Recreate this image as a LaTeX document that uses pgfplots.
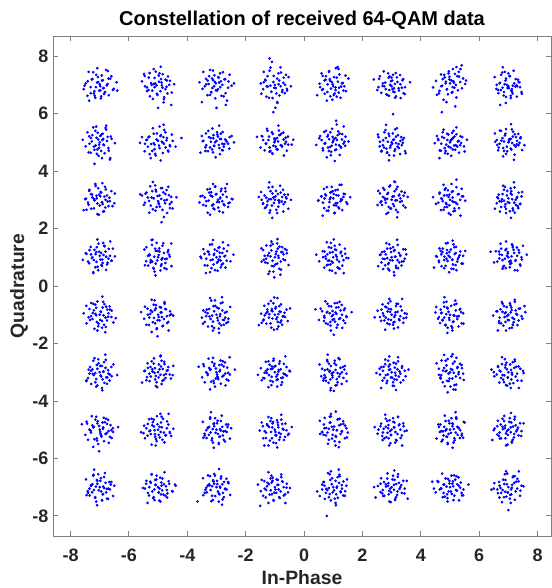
\documentclass[border=0pt]{standalone}
\usepackage{fontspec}
\setmainfont{Liberation Sans}
\usepackage{pgfplots}
\pgfplotsset{compat=1.18}
\definecolor{axisgray}{RGB}{128,128,128}
\definecolor{txtgray}{RGB}{38,38,38}

% received symbols, one constellation point per line
\pgfplotstableread[row sep=\\]{
x y\\
-7.05 7.10\\ -6.82 6.75\\ -7.31 6.92\\ -6.95 6.60\\ -7.12 7.35\\ -6.70 7.22\\ -7.48 7.05\\ -6.88 6.88\\ -7.20 6.70\\ -6.60 7.30\\ -7.02 6.80\\ -7.38 7.45\\ -6.76 6.98\\ -7.15 6.55\\ -6.92 7.15\\ -7.55 6.85\\ -6.55 6.82\\ -7.08 7.58\\ -6.85 6.68\\ -7.25 7.20\\ -6.98 6.95\\ -6.72 7.48\\ -7.42 6.62\\ -7.00 7.02\\ -6.40 6.80\\ -7.18 6.78\\
-5.10 7.05\\ -4.85 6.90\\ -5.32 7.25\\ -4.95 7.40\\ -5.20 6.80\\ -4.70 7.15\\ -5.45 6.95\\ -5.02 6.65\\ -4.80 6.50\\ -5.15 7.55\\ -4.62 7.00\\ -5.55 7.12\\ -4.90 7.20\\ -5.05 6.98\\ -5.28 6.60\\ -4.75 6.85\\ -4.55 6.30\\ -5.38 6.78\\ -4.98 7.32\\ -5.12 6.92\\ -4.88 7.08\\ -5.48 7.38\\ -4.68 6.70\\ -5.22 7.00\\ -4.45 7.02\\ -5.00 6.20\\
-3.05 7.10\\ -2.80 7.00\\ -3.25 7.30\\ -2.95 6.85\\ -3.12 7.50\\ -2.70 7.20\\ -3.40 6.95\\ -2.88 7.40\\ -3.18 6.75\\ -2.60 6.90\\ -3.02 7.05\\ -3.30 7.15\\ -2.75 6.60\\ -3.45 7.45\\ -2.92 7.25\\ -3.08 6.95\\ -2.55 7.35\\ -3.22 6.65\\ -2.85 7.12\\ -3.50 6.40\\ -2.98 6.80\\ -3.15 7.22\\ -2.68 6.30\\ -3.35 7.02\\ -2.40 7.05\\ -3.00 6.20\\
-1.05 7.10\\ -0.80 6.95\\ -1.25 7.30\\ -0.95 6.70\\ -1.15 7.60\\ -0.65 7.00\\ -1.40 6.85\\ -0.88 7.40\\ -1.20 6.55\\ -0.70 7.25\\ -1.02 6.90\\ -1.32 7.15\\ -0.75 6.75\\ -1.10 7.80\\ -0.92 6.40\\ -1.48 7.05\\ -0.58 6.80\\ -1.00 7.00\\ -0.85 7.15\\ -1.28 6.95\\ -0.98 6.20\\ -0.62 7.35\\ -1.38 7.45\\ -1.05 6.05\\ -0.45 6.95\\ -1.18 7.92\\
0.95 7.10\\ 1.20 6.90\\ 0.75 7.30\\ 1.05 6.70\\ 0.85 7.45\\ 1.30 7.05\\ 0.65 6.85\\ 1.12 7.25\\ 0.90 6.60\\ 1.35 6.80\\ 1.00 6.95\\ 0.70 7.15\\ 1.18 7.55\\ 0.80 6.75\\ 1.42 7.32\\ 0.98 7.02\\ 1.25 6.55\\ 0.60 7.40\\ 1.08 6.82\\ 0.88 7.20\\ 1.15 7.62\\ 0.78 6.45\\ 1.38 6.95\\ 1.02 6.65\\ 0.55 6.92\\ 1.10 5.75\\
3.00 6.95\\ 3.20 7.10\\ 2.80 6.85\\ 3.10 6.75\\ 2.90 7.25\\ 3.35 6.90\\ 2.70 7.05\\ 3.05 7.35\\ 2.85 6.65\\ 3.25 6.80\\ 3.02 7.15\\ 2.75 6.95\\ 3.15 6.60\\ 2.95 7.00\\ 3.40 7.20\\ 2.65 6.72\\ 3.08 6.88\\ 2.88 7.40\\ 3.30 7.02\\ 3.12 6.55\\ 2.60 7.30\\ 2.92 6.82\\ 3.45 6.68\\ 3.00 7.25\\ 2.55 6.92\\ 3.05 5.98\\
5.05 7.15\\ 5.25 7.30\\ 4.85 7.05\\ 5.15 6.90\\ 4.95 7.40\\ 5.35 7.10\\ 4.75 7.20\\ 5.10 7.55\\ 4.90 6.85\\ 5.30 7.45\\ 5.00 7.05\\ 4.70 6.95\\ 5.20 7.00\\ 4.80 7.35\\ 5.45 7.22\\ 5.08 6.75\\ 4.62 6.70\\ 5.22 7.62\\ 4.98 7.28\\ 5.40 7.68\\ 4.88 6.40\\ 5.12 7.12\\ 4.72 6.05\\ 5.55 7.15\\ 4.55 6.65\\ 5.18 6.25\\
7.00 6.95\\ 7.20 7.05\\ 6.80 6.90\\ 7.10 6.80\\ 6.90 7.15\\ 7.30 6.95\\ 6.70 7.05\\ 7.05 7.30\\ 6.85 6.75\\ 7.25 7.20\\ 7.02 6.88\\ 6.75 7.35\\ 7.15 6.70\\ 6.95 7.00\\ 7.40 6.92\\ 6.65 6.82\\ 7.08 6.62\\ 6.88 7.45\\ 7.35 7.10\\ 7.12 6.85\\ 6.60 7.00\\ 6.92 6.58\\ 7.45 6.75\\ 7.00 7.40\\ 6.72 6.30\\ 7.28 6.98\\
-7.05 5.10\\ -6.85 4.90\\ -7.25 5.25\\ -6.95 4.70\\ -7.15 5.40\\ -6.75 5.05\\ -7.35 4.95\\ -6.90 5.30\\ -7.10 4.60\\ -6.70 4.80\\ -7.00 5.00\\ -7.30 5.15\\ -6.80 5.50\\ -7.20 4.85\\ -6.92 4.45\\ -7.42 5.35\\ -6.62 5.20\\ -7.08 4.75\\ -6.88 5.12\\ -7.18 4.25\\ -6.98 5.22\\ -6.65 4.40\\ -7.38 4.65\\ -7.02 4.92\\ -6.78 5.58\\ -7.12 5.55\\
-5.05 5.10\\ -4.80 4.95\\ -5.30 5.20\\ -4.95 4.80\\ -5.15 5.30\\ -4.70 5.15\\ -5.45 4.95\\ -4.90 5.25\\ -5.20 4.70\\ -4.60 4.90\\ -5.00 5.05\\ -5.35 4.85\\ -4.75 5.35\\ -5.10 4.60\\ -4.85 5.00\\ -5.55 5.18\\ -4.50 5.05\\ -5.25 4.45\\ -4.95 5.55\\ -5.40 5.08\\ -4.65 4.68\\ -5.12 4.92\\ -4.40 4.85\\ -5.62 4.98\\ -4.82 5.18\\ -4.20 5.15\\
-3.00 5.05\\ -2.80 4.95\\ -3.20 5.15\\ -2.90 4.80\\ -3.10 5.25\\ -2.70 5.10\\ -3.35 4.90\\ -2.85 5.30\\ -3.15 4.75\\ -2.60 4.95\\ -3.05 5.00\\ -3.28 5.40\\ -2.75 4.85\\ -3.12 4.65\\ -2.95 5.20\\ -3.45 5.05\\ -2.55 5.18\\ -3.08 4.88\\ -2.88 5.12\\ -3.22 4.82\\ -2.65 5.02\\ -3.38 4.70\\ -2.98 5.35\\ -2.78 4.72\\ -3.50 5.22\\ -2.40 5.00\\
-1.00 5.05\\ -0.80 4.90\\ -1.20 5.20\\ -0.90 4.75\\ -1.10 5.35\\ -0.70 5.10\\ -1.30 4.95\\ -0.85 5.25\\ -1.15 4.70\\ -0.65 4.95\\ -1.02 5.00\\ -1.25 5.40\\ -0.75 4.85\\ -1.08 4.60\\ -0.92 5.15\\ -1.40 5.08\\ -0.55 5.20\\ -1.05 4.88\\ -0.88 5.58\\ -1.18 4.82\\ -0.62 5.02\\ -1.35 4.72\\ -0.98 5.12\\ -0.78 5.30\\ -1.45 5.22\\ -0.42 4.92\\
1.00 5.05\\ 1.20 4.90\\ 0.80 5.20\\ 1.10 4.75\\ 0.90 5.35\\ 1.30 5.10\\ 0.70 4.95\\ 1.15 5.25\\ 0.85 4.70\\ 1.35 4.95\\ 0.98 5.00\\ 0.75 5.40\\ 1.25 4.85\\ 0.92 4.55\\ 1.08 5.15\\ 0.60 5.08\\ 1.42 5.20\\ 0.95 4.88\\ 1.12 5.62\\ 0.82 4.82\\ 1.38 5.02\\ 0.65 4.72\\ 1.02 5.12\\ 1.22 5.30\\ 0.55 5.22\\ 1.05 4.35\\
3.00 5.00\\ 3.20 4.85\\ 2.80 5.15\\ 3.10 4.70\\ 2.90 5.30\\ 3.30 5.05\\ 2.70 4.90\\ 3.15 5.20\\ 2.85 4.65\\ 3.35 4.90\\ 3.02 4.95\\ 2.75 5.35\\ 3.25 4.80\\ 2.92 4.55\\ 3.08 5.10\\ 2.60 5.02\\ 3.42 5.15\\ 2.95 4.82\\ 3.12 5.45\\ 2.82 4.78\\ 3.38 4.98\\ 2.65 4.68\\ 3.05 5.08\\ 3.22 5.25\\ 2.55 5.18\\ 3.48 4.62\\
5.00 5.00\\ 5.20 4.90\\ 4.80 5.15\\ 5.10 4.75\\ 4.90 5.30\\ 5.30 5.05\\ 4.70 4.95\\ 5.15 5.20\\ 4.85 4.70\\ 5.35 4.90\\ 5.02 5.05\\ 4.75 5.35\\ 5.25 4.85\\ 4.92 4.60\\ 5.08 5.12\\ 4.60 5.08\\ 5.42 5.18\\ 4.95 4.85\\ 5.12 5.40\\ 4.82 4.80\\ 5.38 4.98\\ 4.65 4.72\\ 5.05 5.10\\ 5.22 5.28\\ 4.55 5.22\\ 5.50 4.68\\
7.00 5.00\\ 7.20 4.90\\ 6.80 5.15\\ 7.10 4.75\\ 6.90 5.30\\ 7.30 5.05\\ 6.70 4.95\\ 7.15 5.20\\ 6.85 4.70\\ 7.35 4.90\\ 7.02 5.05\\ 6.75 5.40\\ 7.25 4.85\\ 6.92 4.60\\ 7.08 5.12\\ 6.60 5.08\\ 7.42 5.18\\ 6.95 4.85\\ 7.12 5.45\\ 6.82 4.80\\ 7.38 4.98\\ 6.65 4.72\\ 7.05 5.10\\ 7.22 5.28\\ 6.55 5.02\\ 7.55 4.90\\
-7.10 3.05\\ -6.90 2.85\\ -7.30 3.20\\ -6.80 3.00\\ -7.05 3.40\\ -6.65 2.95\\ -7.20 2.70\\ -6.95 3.25\\ -7.40 2.90\\ -6.75 3.15\\ -7.00 2.80\\ -7.15 3.55\\ -6.85 2.60\\ -7.25 3.08\\ -6.60 3.30\\ -7.50 3.02\\ -6.98 3.12\\ -7.08 2.50\\ -6.70 2.78\\ -7.35 3.35\\ -6.92 2.92\\ -7.18 2.98\\ -6.82 3.45\\ -7.02 3.18\\ -6.50 2.88\\ -7.45 2.65\\
-5.00 2.95\\ -4.75 3.20\\ -5.25 2.80\\ -4.90 3.40\\ -5.15 3.05\\ -4.60 2.85\\ -5.40 3.25\\ -4.85 2.65\\ -5.10 3.50\\ -4.70 3.00\\ -5.30 2.55\\ -4.95 3.15\\ -5.20 3.30\\ -4.55 3.10\\ -5.05 2.75\\ -4.80 2.40\\ -5.45 2.90\\ -4.65 3.45\\ -5.18 3.62\\ -4.98 2.88\\ -5.35 3.08\\ -4.78 2.98\\ -5.08 3.35\\ -4.50 2.70\\ -5.55 3.15\\ -4.88 2.22\\
-2.95 3.00\\ -3.20 3.15\\ -2.75 2.85\\ -3.10 2.70\\ -2.85 3.30\\ -3.35 2.95\\ -2.65 3.10\\ -3.05 3.45\\ -2.90 2.60\\ -3.25 3.25\\ -2.80 2.95\\ -3.15 2.80\\ -2.70 3.40\\ -3.40 3.08\\ -3.00 3.20\\ -2.60 2.75\\ -3.30 2.55\\ -2.88 3.05\\ -3.12 3.55\\ -2.55 2.90\\ -3.45 2.82\\ -2.98 2.92\\ -3.22 3.38\\ -2.78 3.18\\ -3.55 3.12\\ -2.45 3.02\\
-1.00 3.00\\ -0.75 3.10\\ -1.25 2.95\\ -0.90 3.20\\ -1.10 2.80\\ -0.60 3.05\\ -1.35 3.15\\ -0.85 2.90\\ -1.15 3.30\\ -0.70 2.85\\ -1.05 3.08\\ -1.30 2.75\\ -0.80 3.25\\ -1.45 3.00\\ -0.95 2.65\\ -0.55 3.18\\ -1.20 3.02\\ -0.88 2.98\\ -1.08 3.45\\ -0.65 2.92\\ -1.40 2.88\\ -0.98 3.12\\ -1.18 2.55\\ -0.72 3.35\\ -1.55 3.10\\ -0.45 3.00\\
1.00 3.05\\ 1.25 2.95\\ 0.75 3.15\\ 1.10 2.80\\ 0.90 3.25\\ 1.35 3.10\\ 0.65 2.90\\ 1.15 3.35\\ 0.85 2.75\\ 1.30 3.00\\ 1.02 3.20\\ 0.70 3.05\\ 1.20 2.70\\ 0.95 3.45\\ 1.40 3.20\\ 0.60 3.12\\ 1.08 2.88\\ 0.88 3.02\\ 1.18 3.15\\ 0.78 2.62\\ 1.45 2.92\\ 0.98 3.30\\ 1.05 2.55\\ 0.68 3.38\\ 1.28 3.52\\ 0.50 2.98\\
3.00 3.00\\ 3.25 3.15\\ 2.80 2.90\\ 3.10 3.30\\ 2.90 2.75\\ 3.35 2.95\\ 2.70 3.10\\ 3.15 2.65\\ 2.85 3.20\\ 3.20 3.45\\ 3.05 2.85\\ 2.65 2.95\\ 3.30 3.05\\ 2.95 3.50\\ 3.40 2.80\\ 2.75 3.35\\ 3.08 3.12\\ 2.88 2.55\\ 3.18 2.98\\ 2.60 3.22\\ 3.45 3.25\\ 2.98 2.70\\ 3.12 3.62\\ 2.78 3.00\\ 3.55 3.10\\ 2.52 2.82\\
5.00 3.00\\ 4.80 3.15\\ 5.20 2.90\\ 4.90 2.75\\ 5.10 3.30\\ 4.70 3.05\\ 5.30 3.20\\ 4.85 3.40\\ 5.15 2.70\\ 4.95 3.10\\ 5.25 2.85\\ 4.75 2.95\\ 5.05 3.55\\ 5.35 3.00\\ 4.65 3.25\\ 5.12 2.60\\ 4.88 2.85\\ 5.40 3.38\\ 4.98 3.18\\ 5.22 3.70\\ 4.78 2.65\\ 5.08 2.95\\ 4.60 2.90\\ 5.45 3.12\\ 5.02 2.48\\ 4.82 3.35\\
7.00 3.05\\ 7.20 2.90\\ 6.80 3.20\\ 7.10 3.30\\ 6.90 2.85\\ 7.30 3.10\\ 6.70 2.95\\ 7.15 2.70\\ 6.85 3.35\\ 7.25 3.00\\ 6.95 3.15\\ 6.75 2.75\\ 7.35 3.25\\ 7.05 2.60\\ 6.65 3.05\\ 7.40 2.85\\ 6.88 3.45\\ 7.12 3.18\\ 6.98 2.92\\ 7.22 2.55\\ 6.78 3.02\\ 7.45 3.12\\ 6.60 2.88\\ 7.08 3.40\\ 6.92 2.68\\ 7.32 2.78\\
-7.00 1.05\\ -7.20 0.90\\ -6.80 1.20\\ -7.10 1.35\\ -6.90 0.80\\ -7.30 1.10\\ -6.70 0.95\\ -7.15 0.65\\ -6.85 1.40\\ -7.25 1.00\\ -6.95 1.15\\ -6.75 0.75\\ -7.35 1.25\\ -7.05 0.55\\ -6.65 1.05\\ -7.40 0.85\\ -6.88 1.50\\ -7.12 1.18\\ -6.98 0.92\\ -7.22 0.45\\ -6.78 1.02\\ -7.45 1.12\\ -6.60 0.88\\ -7.08 1.62\\ -6.92 0.70\\ -6.55 1.30\\
-5.00 1.00\\ -4.80 1.15\\ -5.20 0.85\\ -4.90 0.70\\ -5.10 1.30\\ -4.70 0.95\\ -5.30 1.10\\ -4.85 1.40\\ -5.15 0.60\\ -4.95 1.20\\ -5.25 0.90\\ -4.75 0.80\\ -5.05 1.50\\ -5.35 1.05\\ -4.65 1.25\\ -5.12 0.50\\ -4.88 0.92\\ -5.40 1.35\\ -4.98 1.08\\ -5.22 1.60\\ -4.78 0.62\\ -5.08 0.78\\ -4.60 1.02\\ -5.45 0.72\\ -5.02 1.22\\ -4.55 1.48\\
-3.00 1.00\\ -2.80 1.15\\ -3.20 0.90\\ -2.90 1.35\\ -3.10 0.75\\ -2.70 1.05\\ -3.30 1.20\\ -2.85 0.65\\ -3.15 1.45\\ -2.95 0.85\\ -3.25 1.10\\ -2.75 1.30\\ -3.05 0.55\\ -3.35 0.95\\ -2.65 0.88\\ -3.12 1.60\\ -2.88 1.02\\ -3.40 0.72\\ -2.98 1.22\\ -3.22 0.48\\ -2.78 0.78\\ -3.08 1.12\\ -2.60 1.42\\ -3.45 1.28\\ -2.92 0.92\\ -3.55 1.02\\
-1.00 1.00\\ -0.80 0.85\\ -1.20 1.15\\ -0.90 1.30\\ -1.10 0.70\\ -0.70 1.10\\ -1.30 0.95\\ -0.85 0.60\\ -1.15 1.40\\ -0.95 1.20\\ -1.25 0.80\\ -0.75 1.35\\ -1.05 0.50\\ -1.35 1.05\\ -0.65 0.90\\ -1.12 1.55\\ -0.88 1.05\\ -1.40 1.25\\ -0.98 0.75\\ -1.22 0.42\\ -0.78 1.18\\ -1.08 0.88\\ -0.60 1.25\\ -1.45 0.85\\ -0.92 1.48\\ -1.02 0.30\\
1.00 1.00\\ 1.20 0.85\\ 0.80 1.10\\ 1.10 1.25\\ 0.90 0.75\\ 1.30 1.05\\ 0.75 0.95\\ 1.15 0.65\\ 0.85 1.35\\ 1.25 1.15\\ 0.95 0.85\\ 1.05 1.40\\ 0.70 1.20\\ 1.35 0.90\\ 0.88 0.55\\ 1.12 1.02\\ 0.82 0.88\\ 1.40 1.30\\ 0.98 1.18\\ 1.22 0.60\\ 0.65 1.00\\ 1.08 0.45\\ 0.92 1.50\\ 1.45 0.98\\ 0.78 0.72\\ 1.02 1.62\\
3.00 1.00\\ 3.20 0.90\\ 2.80 1.10\\ 3.10 1.25\\ 2.90 0.80\\ 3.30 1.05\\ 2.70 0.95\\ 3.15 0.70\\ 2.85 1.30\\ 3.25 1.15\\ 2.95 0.90\\ 3.05 1.35\\ 2.75 1.20\\ 3.35 0.85\\ 2.88 0.60\\ 3.12 1.02\\ 2.60 1.08\\ 3.40 1.28\\ 2.98 1.18\\ 3.22 0.62\\ 2.65 0.82\\ 3.08 0.48\\ 2.92 1.45\\ 3.45 0.95\\ 2.78 0.72\\ 3.50 1.10\\
5.00 1.00\\ 5.20 1.15\\ 4.80 0.90\\ 5.10 0.75\\ 4.90 1.25\\ 5.30 1.00\\ 4.70 1.10\\ 5.15 1.35\\ 4.85 0.70\\ 5.25 0.85\\ 4.95 1.05\\ 5.05 0.60\\ 4.75 1.30\\ 5.35 1.20\\ 4.88 0.95\\ 5.12 1.45\\ 4.62 0.88\\ 5.40 0.78\\ 4.98 1.18\\ 5.22 0.55\\ 4.68 1.22\\ 5.08 0.92\\ 4.92 1.50\\ 5.45 1.05\\ 4.80 0.62\\ 4.55 1.02\\
7.00 1.00\\ 7.20 1.15\\ 6.80 0.90\\ 7.10 0.80\\ 6.90 1.25\\ 7.30 1.05\\ 6.70 1.10\\ 7.15 1.35\\ 6.85 0.70\\ 7.25 0.90\\ 6.95 1.05\\ 7.05 0.65\\ 6.75 1.30\\ 7.35 1.25\\ 6.88 0.95\\ 7.12 1.45\\ 6.62 0.85\\ 7.40 0.75\\ 6.98 1.18\\ 7.22 0.55\\ 6.68 1.20\\ 7.08 0.88\\ 6.92 1.55\\ 7.45 1.00\\ 6.80 0.60\\ 7.50 1.40\\
-7.00 -1.00\\ -7.20 -0.85\\ -6.80 -1.10\\ -7.10 -1.25\\ -6.90 -0.75\\ -7.30 -1.05\\ -6.70 -0.95\\ -7.15 -0.65\\ -6.85 -1.35\\ -7.25 -1.15\\ -6.95 -0.90\\ -7.05 -1.40\\ -6.75 -1.20\\ -7.35 -0.80\\ -6.88 -0.55\\ -7.12 -1.02\\ -6.60 -1.08\\ -7.45 -1.30\\ -6.98 -1.18\\ -7.22 -0.62\\ -6.65 -0.82\\ -7.08 -1.55\\ -6.92 -1.45\\ -7.55 -0.95\\ -6.78 -0.72\\ -6.45 -1.12\\
-5.00 -1.00\\ -4.80 -1.15\\ -5.20 -0.90\\ -4.90 -0.75\\ -5.10 -1.30\\ -4.70 -1.05\\ -5.30 -1.10\\ -4.85 -1.40\\ -5.15 -0.65\\ -4.95 -1.20\\ -5.25 -0.85\\ -4.75 -0.80\\ -5.05 -1.50\\ -5.35 -1.00\\ -4.65 -1.25\\ -5.12 -0.50\\ -4.88 -0.92\\ -5.40 -1.35\\ -4.98 -1.08\\ -5.22 -1.60\\ -4.78 -0.62\\ -5.08 -0.78\\ -4.60 -1.02\\ -5.45 -0.72\\ -5.02 -1.75\\ -4.55 -0.98\\
-3.00 -1.00\\ -2.80 -0.85\\ -3.20 -1.15\\ -2.90 -1.30\\ -3.10 -0.70\\ -2.70 -1.10\\ -3.30 -0.95\\ -2.85 -0.60\\ -3.15 -1.40\\ -2.95 -1.20\\ -3.25 -0.80\\ -2.75 -1.35\\ -3.05 -0.50\\ -3.35 -1.05\\ -2.65 -0.90\\ -3.12 -1.55\\ -2.88 -1.05\\ -3.40 -1.25\\ -2.98 -0.75\\ -3.22 -0.42\\ -2.78 -1.18\\ -3.08 -0.88\\ -2.60 -1.25\\ -3.45 -0.85\\ -2.92 -1.48\\ -3.50 -1.10\\
-1.00 -1.00\\ -0.80 -0.90\\ -1.20 -1.10\\ -0.90 -1.25\\ -1.10 -0.80\\ -0.70 -1.05\\ -1.30 -0.95\\ -0.85 -0.70\\ -1.15 -1.30\\ -0.95 -1.15\\ -1.25 -0.90\\ -0.75 -1.35\\ -1.05 -0.60\\ -1.35 -1.02\\ -0.65 -1.08\\ -1.12 -1.45\\ -0.88 -0.98\\ -1.40 -1.20\\ -0.98 -0.78\\ -1.22 -0.62\\ -0.78 -1.20\\ -1.08 -0.88\\ -0.60 -0.82\\ -1.45 -1.28\\ -0.92 -1.50\\ -1.02 -0.40\\
1.00 -1.00\\ 1.20 -1.15\\ 0.80 -0.90\\ 1.10 -0.75\\ 0.90 -1.25\\ 1.30 -1.00\\ 0.70 -1.10\\ 1.15 -1.35\\ 0.85 -0.70\\ 1.25 -0.85\\ 0.95 -1.05\\ 1.05 -0.60\\ 0.75 -1.30\\ 1.35 -1.20\\ 0.88 -0.95\\ 1.12 -1.45\\ 0.62 -0.88\\ 1.40 -0.78\\ 0.98 -1.18\\ 1.22 -0.55\\ 0.68 -1.22\\ 1.08 -0.92\\ 0.92 -1.55\\ 1.45 -1.05\\ 0.80 -0.62\\ 1.02 -1.70\\
3.00 -1.00\\ 3.20 -0.90\\ 2.80 -1.10\\ 3.10 -1.25\\ 2.90 -0.80\\ 3.30 -1.05\\ 2.70 -0.95\\ 3.15 -0.70\\ 2.85 -1.30\\ 3.25 -1.15\\ 2.95 -0.90\\ 3.05 -1.35\\ 2.75 -1.20\\ 3.35 -0.85\\ 2.88 -0.60\\ 3.12 -1.02\\ 2.60 -1.08\\ 3.40 -1.28\\ 2.98 -1.18\\ 3.22 -0.62\\ 2.65 -0.82\\ 3.08 -1.48\\ 2.92 -0.45\\ 3.45 -0.95\\ 2.78 -0.72\\ 3.50 -1.10\\
5.00 -1.00\\ 5.20 -0.85\\ 4.80 -1.10\\ 5.10 -1.25\\ 4.90 -0.75\\ 5.30 -1.05\\ 4.70 -0.95\\ 5.15 -0.65\\ 4.85 -1.35\\ 5.25 -1.15\\ 4.95 -0.90\\ 5.05 -1.40\\ 4.75 -1.20\\ 5.35 -0.80\\ 4.88 -0.55\\ 5.12 -1.02\\ 4.62 -1.08\\ 5.40 -1.30\\ 4.98 -1.18\\ 5.22 -0.62\\ 4.68 -0.82\\ 5.08 -1.55\\ 4.92 -1.45\\ 5.45 -0.95\\ 4.80 -0.72\\ 4.50 -0.92\\
7.00 -1.00\\ 7.20 -1.15\\ 6.80 -0.90\\ 7.10 -0.75\\ 6.90 -1.25\\ 7.30 -1.00\\ 6.70 -1.10\\ 7.15 -1.35\\ 6.85 -0.70\\ 7.25 -0.85\\ 6.95 -1.05\\ 7.05 -0.60\\ 6.75 -1.30\\ 7.35 -1.20\\ 6.88 -0.95\\ 7.12 -1.45\\ 6.62 -0.88\\ 7.40 -0.78\\ 6.98 -1.18\\ 7.22 -0.55\\ 6.68 -1.22\\ 7.08 -0.92\\ 6.92 -1.55\\ 7.45 -1.05\\ 6.80 -0.62\\ 7.55 -0.70\\
-7.00 -3.00\\ -6.80 -2.85\\ -7.20 -3.10\\ -6.90 -3.25\\ -7.10 -2.75\\ -6.70 -3.05\\ -7.30 -2.95\\ -6.85 -2.65\\ -7.15 -3.35\\ -6.95 -3.15\\ -7.25 -2.90\\ -6.75 -3.40\\ -7.05 -2.55\\ -7.35 -3.05\\ -6.65 -3.08\\ -7.12 -3.50\\ -6.88 -2.98\\ -7.40 -3.20\\ -6.98 -2.78\\ -7.22 -2.60\\ -6.78 -3.18\\ -7.08 -2.88\\ -6.60 -2.82\\ -7.45 -3.28\\ -6.92 -3.55\\ -6.40 -3.10\\
-5.00 -3.00\\ -5.20 -2.90\\ -4.80 -3.10\\ -5.10 -3.25\\ -4.90 -2.80\\ -5.30 -3.05\\ -4.70 -2.95\\ -5.15 -2.70\\ -4.85 -3.30\\ -5.25 -3.15\\ -4.95 -2.90\\ -5.05 -3.35\\ -4.75 -3.20\\ -5.35 -2.85\\ -4.88 -2.60\\ -5.12 -3.02\\ -4.60 -3.08\\ -5.40 -3.28\\ -4.98 -3.18\\ -5.22 -2.62\\ -4.65 -2.82\\ -5.08 -3.48\\ -4.92 -2.45\\ -5.45 -2.95\\ -4.78 -2.72\\ -4.50 -3.10\\
-3.00 -3.00\\ -2.80 -3.15\\ -3.20 -2.90\\ -2.90 -2.75\\ -3.10 -3.30\\ -2.70 -3.05\\ -3.30 -3.10\\ -2.85 -3.40\\ -3.15 -2.65\\ -2.95 -3.20\\ -3.25 -2.85\\ -2.75 -2.80\\ -3.05 -3.50\\ -3.35 -3.00\\ -2.65 -3.25\\ -3.12 -2.50\\ -2.88 -2.92\\ -3.40 -3.35\\ -2.98 -3.08\\ -3.22 -3.60\\ -2.78 -2.62\\ -3.08 -2.78\\ -2.60 -3.02\\ -3.45 -2.72\\ -3.02 -3.22\\ -2.55 -2.48\\
-1.00 -3.00\\ -0.80 -2.90\\ -1.20 -3.10\\ -0.90 -3.25\\ -1.10 -2.80\\ -0.70 -3.05\\ -1.30 -2.95\\ -0.85 -2.70\\ -1.15 -3.30\\ -0.95 -3.15\\ -1.25 -2.90\\ -0.75 -3.35\\ -1.05 -2.60\\ -1.35 -3.02\\ -0.65 -3.08\\ -1.12 -3.45\\ -0.88 -2.98\\ -1.40 -3.20\\ -0.98 -2.78\\ -1.22 -2.62\\ -0.78 -3.20\\ -1.08 -2.88\\ -0.60 -2.82\\ -1.45 -3.28\\ -0.92 -3.50\\ -0.50 -2.95\\
1.00 -3.00\\ 1.20 -3.15\\ 0.80 -2.90\\ 1.10 -2.75\\ 0.90 -3.25\\ 1.30 -3.00\\ 0.70 -3.10\\ 1.15 -3.35\\ 0.85 -2.70\\ 1.25 -2.85\\ 0.95 -3.05\\ 1.05 -2.60\\ 0.75 -3.30\\ 1.35 -3.20\\ 0.88 -2.95\\ 1.12 -3.45\\ 0.62 -2.88\\ 1.40 -2.78\\ 0.98 -3.18\\ 1.22 -2.55\\ 0.68 -3.22\\ 1.08 -2.92\\ 0.92 -3.55\\ 1.45 -3.05\\ 0.80 -2.62\\ 1.02 -3.65\\
3.00 -3.00\\ 3.20 -2.90\\ 2.80 -3.10\\ 3.10 -3.25\\ 2.90 -2.80\\ 3.30 -3.05\\ 2.70 -2.95\\ 3.15 -2.70\\ 2.85 -3.30\\ 3.25 -3.15\\ 2.95 -2.90\\ 3.05 -3.35\\ 2.75 -3.20\\ 3.35 -2.85\\ 2.88 -2.60\\ 3.12 -3.02\\ 2.60 -3.08\\ 3.40 -3.28\\ 2.98 -3.18\\ 3.22 -2.62\\ 2.65 -2.82\\ 3.08 -3.48\\ 2.92 -2.45\\ 3.45 -2.95\\ 2.78 -2.72\\ 3.15 -3.62\\
5.00 -3.00\\ 5.20 -3.15\\ 4.80 -2.85\\ 5.10 -2.70\\ 4.90 -3.30\\ 5.30 -3.00\\ 4.70 -3.10\\ 5.15 -3.45\\ 4.85 -2.60\\ 5.25 -2.85\\ 4.95 -3.05\\ 5.05 -2.45\\ 4.75 -3.35\\ 5.35 -3.20\\ 4.88 -2.95\\ 5.12 -3.60\\ 4.62 -2.88\\ 5.40 -2.75\\ 4.98 -3.22\\ 5.22 -2.50\\ 4.68 -3.22\\ 5.08 -2.92\\ 4.92 -3.70\\ 5.45 -3.05\\ 4.80 -2.40\\ 5.02 -3.50\\
7.00 -3.00\\ 7.20 -2.85\\ 6.80 -3.10\\ 7.10 -3.25\\ 6.90 -2.75\\ 7.30 -3.05\\ 6.70 -2.95\\ 7.15 -2.65\\ 6.85 -3.35\\ 7.25 -3.15\\ 6.95 -2.90\\ 7.05 -3.40\\ 6.75 -3.20\\ 7.35 -2.80\\ 6.88 -2.55\\ 7.12 -3.02\\ 6.60 -3.08\\ 7.45 -3.30\\ 6.98 -3.18\\ 7.22 -2.62\\ 6.65 -2.82\\ 7.08 -3.55\\ 6.92 -3.45\\ 7.50 -2.95\\ 6.78 -2.72\\ 6.50 -3.00\\
-7.00 -5.00\\ -6.80 -5.15\\ -7.20 -4.90\\ -6.90 -4.75\\ -7.10 -5.30\\ -6.70 -5.05\\ -7.30 -5.10\\ -6.85 -5.40\\ -7.15 -4.65\\ -6.95 -5.20\\ -7.25 -4.85\\ -6.75 -4.80\\ -7.05 -5.50\\ -7.35 -5.00\\ -6.65 -5.25\\ -7.12 -4.55\\ -6.88 -4.92\\ -7.40 -5.35\\ -6.98 -5.08\\ -7.22 -5.60\\ -6.78 -4.62\\ -7.08 -4.78\\ -6.60 -5.02\\ -7.45 -4.72\\ -7.02 -5.75\\ -6.55 -4.95\\
-5.00 -5.00\\ -5.20 -4.85\\ -4.80 -5.10\\ -5.10 -5.25\\ -4.90 -4.75\\ -5.30 -5.05\\ -4.70 -4.95\\ -5.15 -4.65\\ -4.85 -5.35\\ -5.25 -5.15\\ -4.95 -4.90\\ -5.05 -5.40\\ -4.75 -5.20\\ -5.35 -4.80\\ -4.88 -4.55\\ -5.12 -5.02\\ -4.60 -5.08\\ -5.45 -5.30\\ -4.98 -5.18\\ -5.22 -4.62\\ -4.65 -4.82\\ -5.08 -5.55\\ -4.92 -4.45\\ -5.40 -4.95\\ -4.55 -5.22\\ -5.50 -5.12\\
-3.00 -5.00\\ -2.80 -4.90\\ -3.20 -5.10\\ -2.90 -5.25\\ -3.10 -4.80\\ -2.70 -5.05\\ -3.30 -4.95\\ -2.85 -4.70\\ -3.15 -5.30\\ -2.95 -5.15\\ -3.25 -4.90\\ -2.75 -5.35\\ -3.05 -4.60\\ -3.35 -5.02\\ -2.65 -5.08\\ -3.12 -5.45\\ -2.88 -4.98\\ -3.40 -5.20\\ -2.98 -4.78\\ -3.22 -4.62\\ -2.78 -5.20\\ -3.08 -4.88\\ -2.60 -4.82\\ -3.45 -5.28\\ -2.92 -5.50\\ -2.50 -4.95\\
-1.00 -5.00\\ -0.80 -5.15\\ -1.20 -4.90\\ -0.90 -4.75\\ -1.10 -5.30\\ -0.70 -5.00\\ -1.30 -5.10\\ -0.85 -5.35\\ -1.15 -4.70\\ -0.95 -5.20\\ -1.25 -4.85\\ -0.75 -4.80\\ -1.05 -5.45\\ -1.35 -5.05\\ -0.65 -5.25\\ -1.12 -4.60\\ -0.88 -4.92\\ -1.40 -5.30\\ -0.98 -5.08\\ -1.22 -5.55\\ -0.78 -4.65\\ -1.08 -4.78\\ -0.60 -5.02\\ -1.45 -4.75\\ -0.92 -5.62\\ -0.55 -5.18\\
1.00 -5.00\\ 1.20 -4.85\\ 0.80 -5.10\\ 1.10 -5.25\\ 0.90 -4.75\\ 1.30 -5.05\\ 0.70 -4.95\\ 1.15 -4.65\\ 0.85 -5.35\\ 1.25 -5.15\\ 0.95 -4.90\\ 1.05 -5.40\\ 0.75 -5.20\\ 1.35 -4.80\\ 0.88 -4.55\\ 1.12 -5.02\\ 0.62 -5.08\\ 1.40 -5.30\\ 0.98 -5.18\\ 1.22 -4.62\\ 0.68 -4.82\\ 1.08 -5.55\\ 0.92 -4.45\\ 1.45 -4.95\\ 0.55 -5.15\\ 1.50 -5.10\\
3.00 -5.00\\ 3.20 -5.15\\ 2.80 -4.90\\ 3.10 -4.75\\ 2.90 -5.30\\ 3.30 -5.00\\ 2.70 -5.10\\ 3.15 -5.35\\ 2.85 -4.70\\ 3.25 -4.85\\ 2.95 -5.05\\ 3.05 -4.60\\ 2.75 -5.30\\ 3.35 -5.20\\ 2.88 -4.95\\ 3.12 -5.45\\ 2.62 -4.88\\ 3.40 -4.78\\ 2.98 -5.18\\ 3.22 -4.55\\ 2.68 -5.22\\ 3.08 -4.92\\ 2.92 -5.55\\ 3.45 -5.05\\ 2.80 -4.62\\ 2.55 -5.00\\
5.00 -5.00\\ 4.80 -4.90\\ 5.20 -5.10\\ 4.90 -5.25\\ 5.10 -4.80\\ 4.70 -5.05\\ 5.30 -4.95\\ 4.85 -4.70\\ 5.15 -5.30\\ 4.95 -5.15\\ 5.25 -4.90\\ 4.75 -5.35\\ 5.05 -4.60\\ 5.35 -5.02\\ 4.65 -5.08\\ 5.12 -5.45\\ 4.88 -4.98\\ 5.40 -5.20\\ 4.98 -4.78\\ 5.22 -4.62\\ 4.78 -5.20\\ 5.08 -4.88\\ 4.60 -4.82\\ 5.45 -5.28\\ 4.92 -5.50\\ 5.50 -4.75\\
7.00 -5.00\\ 7.20 -5.15\\ 6.80 -4.90\\ 7.10 -4.75\\ 6.90 -5.30\\ 7.30 -5.00\\ 6.70 -5.10\\ 7.15 -5.35\\ 6.85 -4.70\\ 7.25 -4.85\\ 6.95 -5.05\\ 7.05 -4.60\\ 6.75 -5.30\\ 7.35 -5.20\\ 6.88 -4.95\\ 7.12 -5.45\\ 6.62 -4.88\\ 7.40 -4.78\\ 6.98 -5.18\\ 7.22 -4.55\\ 6.68 -5.22\\ 7.08 -4.92\\ 6.92 -5.55\\ 7.45 -5.05\\ 6.80 -4.62\\ 6.50 -5.02\\
-7.00 -7.00\\ -6.80 -6.85\\ -7.20 -7.10\\ -6.90 -7.25\\ -7.10 -6.75\\ -6.70 -7.05\\ -7.30 -6.95\\ -6.85 -6.65\\ -7.15 -7.35\\ -6.95 -7.15\\ -7.25 -6.90\\ -6.75 -7.40\\ -7.05 -6.55\\ -7.35 -7.05\\ -6.65 -7.08\\ -7.12 -7.50\\ -6.88 -6.98\\ -7.40 -7.20\\ -6.98 -6.78\\ -7.22 -6.60\\ -6.78 -7.18\\ -7.08 -6.88\\ -6.60 -6.82\\ -7.45 -7.28\\ -6.92 -7.45\\ -6.50 -6.95\\
-5.00 -7.00\\ -5.20 -7.15\\ -4.80 -6.90\\ -5.10 -6.75\\ -4.90 -7.25\\ -5.30 -7.00\\ -4.70 -7.10\\ -5.15 -7.35\\ -4.85 -6.70\\ -5.25 -6.85\\ -4.95 -7.05\\ -5.05 -6.60\\ -4.75 -7.30\\ -5.35 -7.20\\ -4.88 -6.95\\ -5.12 -7.45\\ -4.62 -6.88\\ -5.40 -6.78\\ -4.98 -7.18\\ -5.22 -6.55\\ -4.68 -7.22\\ -5.08 -6.92\\ -4.92 -7.50\\ -5.45 -7.05\\ -4.50 -7.15\\ -4.40 -6.95\\
-3.00 -7.00\\ -2.80 -6.90\\ -3.20 -7.10\\ -2.90 -7.25\\ -3.10 -6.80\\ -2.70 -7.05\\ -3.30 -6.95\\ -2.85 -6.70\\ -3.15 -7.30\\ -2.95 -7.15\\ -3.25 -6.90\\ -2.75 -7.35\\ -3.05 -6.60\\ -3.35 -7.02\\ -2.65 -7.08\\ -3.12 -7.45\\ -2.88 -6.98\\ -3.40 -7.20\\ -2.98 -6.78\\ -3.22 -6.62\\ -2.78 -7.20\\ -3.08 -6.88\\ -2.60 -6.82\\ -3.45 -7.28\\ -2.92 -7.50\\ -3.65 -7.50\\
-1.00 -7.00\\ -0.80 -7.15\\ -1.20 -6.90\\ -0.90 -6.75\\ -1.10 -7.25\\ -0.70 -7.00\\ -1.30 -7.10\\ -0.85 -7.35\\ -1.15 -6.70\\ -0.95 -7.20\\ -1.25 -6.85\\ -0.75 -6.80\\ -1.05 -7.45\\ -1.35 -7.05\\ -0.65 -7.25\\ -1.12 -6.60\\ -0.88 -6.92\\ -1.40 -7.30\\ -0.98 -7.08\\ -1.22 -7.55\\ -0.78 -6.65\\ -1.08 -6.78\\ -0.60 -7.02\\ -1.45 -6.75\\ -0.55 -7.18\\ -1.50 -7.65\\
1.00 -7.00\\ 1.20 -6.85\\ 0.80 -7.10\\ 1.10 -7.25\\ 0.90 -6.75\\ 1.30 -7.05\\ 0.70 -6.95\\ 1.15 -6.65\\ 0.85 -7.35\\ 1.25 -7.15\\ 0.95 -6.90\\ 1.05 -7.40\\ 0.75 -7.20\\ 1.35 -6.80\\ 0.88 -6.55\\ 1.12 -7.02\\ 0.62 -7.08\\ 1.40 -7.30\\ 0.98 -7.18\\ 1.22 -6.62\\ 0.68 -6.82\\ 1.08 -7.55\\ 0.92 -6.45\\ 1.45 -6.95\\ 0.45 -7.15\\ 0.78 -8.00\\
3.00 -7.00\\ 3.20 -7.15\\ 2.80 -6.90\\ 3.10 -6.75\\ 2.90 -7.25\\ 3.30 -7.00\\ 2.70 -7.10\\ 3.15 -7.35\\ 2.85 -6.70\\ 3.25 -6.85\\ 2.95 -7.05\\ 3.05 -6.60\\ 2.75 -7.30\\ 3.35 -7.20\\ 2.88 -6.95\\ 3.12 -7.45\\ 2.62 -6.88\\ 3.40 -6.78\\ 2.98 -7.18\\ 3.22 -6.55\\ 2.68 -7.22\\ 3.08 -6.92\\ 2.92 -7.50\\ 3.45 -7.05\\ 2.40 -7.00\\ 3.55 -7.40\\
5.00 -7.00\\ 4.80 -6.90\\ 5.20 -7.10\\ 4.90 -7.25\\ 5.10 -6.80\\ 4.70 -7.05\\ 5.30 -6.95\\ 4.85 -6.70\\ 5.15 -7.30\\ 4.95 -7.15\\ 5.25 -6.90\\ 4.75 -7.35\\ 5.05 -6.60\\ 5.35 -7.02\\ 4.65 -7.08\\ 5.12 -7.45\\ 4.88 -6.98\\ 5.40 -7.20\\ 4.98 -6.78\\ 5.22 -6.62\\ 4.78 -7.20\\ 5.08 -6.88\\ 4.60 -6.82\\ 5.45 -7.28\\ 4.92 -7.50\\ 4.45 -7.05\\
7.00 -7.00\\ 7.20 -6.85\\ 6.80 -7.10\\ 7.10 -7.25\\ 6.90 -6.75\\ 7.30 -7.05\\ 6.70 -6.95\\ 7.15 -6.65\\ 6.85 -7.35\\ 7.25 -7.15\\ 6.95 -6.90\\ 7.05 -7.40\\ 6.75 -7.20\\ 7.35 -6.80\\ 6.88 -6.55\\ 7.12 -7.02\\ 6.62 -7.08\\ 7.40 -7.30\\ 6.98 -7.18\\ 7.22 -6.62\\ 6.68 -6.82\\ 7.08 -7.55\\ 6.92 -6.45\\ 7.45 -6.95\\ 7.00 -7.80\\ 6.50 -7.05\\
-6.93 7.33\\ -7.41 7.12\\ -6.82 6.74\\ -7.13 6.92\\ -6.64 7.21\\ -7.22 7.44\\ -6.96 6.53\\ -6.73 7.03\\ -7.31 6.71\\ -6.89 7.16\\ -7.06 7.27\\ -6.52 6.86\\ -7.17 6.62\\ -6.78 7.52\\ -7.52 6.97\\ -6.86 6.89\\ -7.09 7.08\\ -6.69 6.64\\ -7.27 7.19\\ -6.98 6.81\\ -6.42 7.09\\ -7.36 6.45\\
-5.12 7.24\\ -4.71 6.93\\ -5.33 6.82\\ -4.84 7.37\\ -5.04 6.69\\ -4.59 7.14\\ -5.24 7.06\\ -4.92 6.78\\ -5.46 7.31\\ -4.79 6.57\\ -4.97 7.11\\ -5.18 6.51\\ -4.66 7.29\\ -5.08 7.46\\ -4.87 6.98\\ -5.38 6.91\\ -4.74 7.18\\ -5.15 7.03\\ -4.53 6.73\\ -5.29 7.41\\ -4.91 7.63\\ -4.81 6.39\\
-3.07 7.33\\ -2.59 7.12\\ -3.18 6.74\\ -2.87 6.92\\ -3.36 7.21\\ -2.78 7.44\\ -3.04 6.53\\ -3.27 7.03\\ -2.69 6.71\\ -3.11 7.16\\ -2.94 7.27\\ -3.48 6.86\\ -2.83 6.62\\ -3.22 7.52\\ -2.48 6.97\\ -3.14 6.89\\ -2.91 7.08\\ -3.31 6.64\\ -2.73 7.19\\ -3.02 6.81\\ -3.58 7.09\\ -2.64 6.45\\
-1.12 6.76\\ -0.71 7.07\\ -1.33 7.18\\ -0.84 6.63\\ -1.04 7.31\\ -0.59 6.86\\ -1.24 6.94\\ -0.92 7.22\\ -1.46 6.69\\ -0.79 7.43\\ -0.97 6.89\\ -1.18 7.49\\ -0.66 6.71\\ -1.08 6.54\\ -0.87 7.02\\ -1.38 7.09\\ -0.74 6.82\\ -1.15 6.97\\ -0.53 7.27\\ -1.29 6.59\\ -0.91 6.37\\ -0.81 7.61\\
1.33 7.07\\ 1.12 6.59\\ 0.74 7.18\\ 0.92 6.87\\ 1.21 7.36\\ 1.44 6.78\\ 0.53 7.04\\ 1.03 7.27\\ 0.71 6.69\\ 1.16 7.11\\ 1.27 6.94\\ 0.86 7.48\\ 0.62 6.83\\ 1.52 7.22\\ 0.97 6.48\\ 0.89 7.14\\ 1.08 6.91\\ 0.64 7.31\\ 1.19 6.73\\ 0.81 7.02\\ 1.09 7.58\\ 0.45 6.64\\
3.24 6.88\\ 2.93 7.29\\ 2.82 6.67\\ 3.37 7.16\\ 2.69 6.96\\ 3.14 7.41\\ 3.06 6.76\\ 2.78 7.08\\ 3.31 6.54\\ 2.57 7.21\\ 3.11 7.03\\ 2.51 6.82\\ 3.29 7.34\\ 3.46 6.92\\ 2.98 7.13\\ 2.91 6.62\\ 3.18 7.26\\ 3.03 6.85\\ 2.73 7.47\\ 3.41 6.71\\ 3.63 7.09\\ 2.39 7.19\\
4.93 6.67\\ 5.41 6.88\\ 4.82 7.26\\ 5.13 7.08\\ 4.64 6.79\\ 5.22 6.56\\ 4.96 7.47\\ 4.73 6.97\\ 5.31 7.29\\ 4.89 6.84\\ 5.06 6.73\\ 4.52 7.14\\ 5.17 7.38\\ 4.78 6.48\\ 5.52 7.03\\ 4.86 7.11\\ 5.09 6.92\\ 4.69 7.36\\ 5.27 6.81\\ 4.98 7.19\\ 4.42 6.91\\ 5.36 7.55\\
7.12 6.76\\ 6.71 7.07\\ 7.33 7.18\\ 6.84 6.63\\ 7.04 7.31\\ 6.59 6.86\\ 7.24 6.94\\ 6.92 7.22\\ 7.46 6.69\\ 6.79 7.43\\ 6.97 6.89\\ 7.18 7.49\\ 6.66 6.71\\ 7.08 6.54\\ 6.87 7.02\\ 7.38 7.09\\ 6.74 6.82\\ 7.15 6.97\\ 6.53 7.27\\ 7.29 6.59\\ 6.91 6.37\\ 6.81 7.61\\
-7.07 5.33\\ -6.59 5.12\\ -7.18 4.74\\ -6.87 4.92\\ -7.36 5.21\\ -6.78 5.44\\ -7.04 4.53\\ -7.27 5.03\\ -6.69 4.71\\ -7.11 5.16\\ -6.94 5.27\\ -7.48 4.86\\ -6.83 4.62\\ -7.22 5.52\\ -6.48 4.97\\ -7.14 4.89\\ -6.91 5.08\\ -7.31 4.64\\ -6.73 5.19\\ -7.02 4.81\\ -7.58 5.09\\ -6.64 4.45\\
-5.12 4.76\\ -4.71 5.07\\ -5.33 5.18\\ -4.84 4.63\\ -5.04 5.31\\ -4.59 4.86\\ -5.24 4.94\\ -4.92 5.22\\ -5.46 4.69\\ -4.79 5.43\\ -4.97 4.89\\ -5.18 5.49\\ -4.66 4.71\\ -5.08 4.54\\ -4.87 5.02\\ -5.38 5.09\\ -4.74 4.82\\ -5.15 4.97\\ -4.53 5.27\\ -5.29 4.59\\ -4.91 4.37\\ -4.81 5.61\\
-2.67 5.07\\ -2.88 4.59\\ -3.26 5.18\\ -3.08 4.87\\ -2.79 5.36\\ -2.56 4.78\\ -3.47 5.04\\ -2.97 5.27\\ -3.29 4.69\\ -2.84 5.11\\ -2.73 4.94\\ -3.14 5.48\\ -3.38 4.83\\ -2.48 5.22\\ -3.03 4.48\\ -3.11 5.14\\ -2.92 4.91\\ -3.36 5.31\\ -2.81 4.73\\ -3.19 5.02\\ -2.91 5.58\\ -3.55 4.64\\
-0.76 4.88\\ -1.07 5.29\\ -1.18 4.67\\ -0.63 5.16\\ -1.31 4.96\\ -0.86 5.41\\ -0.94 4.76\\ -1.22 5.08\\ -0.69 4.54\\ -1.43 5.21\\ -0.89 5.03\\ -1.49 4.82\\ -0.71 5.34\\ -0.54 4.92\\ -1.02 5.13\\ -1.09 4.62\\ -0.82 5.26\\ -0.97 4.85\\ -1.27 5.47\\ -0.59 4.71\\ -0.37 5.09\\ -1.61 5.19\\
0.93 4.67\\ 1.41 4.88\\ 0.82 5.26\\ 1.13 5.08\\ 0.64 4.79\\ 1.22 4.56\\ 0.96 5.47\\ 0.73 4.97\\ 1.31 5.29\\ 0.89 4.84\\ 1.06 4.73\\ 0.52 5.14\\ 1.17 5.38\\ 0.78 4.48\\ 1.52 5.03\\ 0.86 5.11\\ 1.09 4.92\\ 0.69 5.36\\ 1.27 4.81\\ 0.98 5.19\\ 0.42 4.91\\ 1.36 5.55\\
3.12 4.76\\ 2.71 5.07\\ 3.33 5.18\\ 2.84 4.63\\ 3.04 5.31\\ 2.59 4.86\\ 3.24 4.94\\ 2.92 5.22\\ 3.46 4.69\\ 2.79 5.43\\ 2.97 4.89\\ 3.18 5.49\\ 2.66 4.71\\ 3.08 4.54\\ 2.87 5.02\\ 3.38 5.09\\ 2.74 4.82\\ 3.15 4.97\\ 2.53 5.27\\ 3.29 4.59\\ 2.91 4.37\\ 2.81 5.61\\
5.07 5.33\\ 4.59 5.12\\ 5.18 4.74\\ 4.87 4.92\\ 5.36 5.21\\ 4.78 5.44\\ 5.04 4.53\\ 5.27 5.03\\ 4.69 4.71\\ 5.11 5.16\\ 4.94 5.27\\ 5.48 4.86\\ 4.83 4.62\\ 5.22 5.52\\ 4.48 4.97\\ 5.14 4.89\\ 4.91 5.08\\ 5.31 4.64\\ 4.73 5.19\\ 5.02 4.81\\ 5.58 5.09\\ 4.64 4.45\\
6.88 5.24\\ 7.29 4.93\\ 6.67 4.82\\ 7.16 5.37\\ 6.96 4.69\\ 7.41 5.14\\ 6.76 5.06\\ 7.08 4.78\\ 6.54 5.31\\ 7.21 4.57\\ 7.03 5.11\\ 6.82 4.51\\ 7.34 5.29\\ 6.92 5.46\\ 7.13 4.98\\ 6.62 4.91\\ 7.26 5.18\\ 6.85 5.03\\ 7.47 4.73\\ 6.71 5.41\\ 7.09 5.63\\ 7.19 4.39\\
-6.67 3.07\\ -6.88 2.59\\ -7.26 3.18\\ -7.08 2.87\\ -6.79 3.36\\ -6.56 2.78\\ -7.47 3.04\\ -6.97 3.27\\ -7.29 2.69\\ -6.84 3.11\\ -6.73 2.94\\ -7.14 3.48\\ -7.38 2.83\\ -6.48 3.22\\ -7.03 2.48\\ -7.11 3.14\\ -6.92 2.91\\ -7.36 3.31\\ -6.81 2.73\\ -7.19 3.02\\ -6.91 3.58\\ -7.55 2.64\\
-4.76 2.88\\ -5.07 3.29\\ -5.18 2.67\\ -4.63 3.16\\ -5.31 2.96\\ -4.86 3.41\\ -4.94 2.76\\ -5.22 3.08\\ -4.69 2.54\\ -5.43 3.21\\ -4.89 3.03\\ -5.49 2.82\\ -4.71 3.34\\ -4.54 2.92\\ -5.02 3.13\\ -5.09 2.62\\ -4.82 3.26\\ -4.97 2.85\\ -5.27 3.47\\ -4.59 2.71\\ -4.37 3.09\\ -5.61 3.19\\
-3.07 2.67\\ -2.59 2.88\\ -3.18 3.26\\ -2.87 3.08\\ -3.36 2.79\\ -2.78 2.56\\ -3.04 3.47\\ -3.27 2.97\\ -2.69 3.29\\ -3.11 2.84\\ -2.94 2.73\\ -3.48 3.14\\ -2.83 3.38\\ -3.22 2.48\\ -2.48 3.03\\ -3.14 3.11\\ -2.91 2.92\\ -3.31 3.36\\ -2.73 2.81\\ -3.02 3.19\\ -3.58 2.91\\ -2.64 3.55\\
-0.88 2.76\\ -1.29 3.07\\ -0.67 3.18\\ -1.16 2.63\\ -0.96 3.31\\ -1.41 2.86\\ -0.76 2.94\\ -1.08 3.22\\ -0.54 2.69\\ -1.21 3.43\\ -1.03 2.89\\ -0.82 3.49\\ -1.34 2.71\\ -0.92 2.54\\ -1.13 3.02\\ -0.62 3.09\\ -1.26 2.82\\ -0.85 2.97\\ -1.47 3.27\\ -0.71 2.59\\ -1.09 2.37\\ -1.19 3.61\\
1.07 3.33\\ 0.59 3.12\\ 1.18 2.74\\ 0.87 2.92\\ 1.36 3.21\\ 0.78 3.44\\ 1.04 2.53\\ 1.27 3.03\\ 0.69 2.71\\ 1.11 3.16\\ 0.94 3.27\\ 1.48 2.86\\ 0.83 2.62\\ 1.22 3.52\\ 0.48 2.97\\ 1.14 2.89\\ 0.91 3.08\\ 1.31 2.64\\ 0.73 3.19\\ 1.02 2.81\\ 1.58 3.09\\ 0.64 2.45\\
2.88 3.24\\ 3.29 2.93\\ 2.67 2.82\\ 3.16 3.37\\ 2.96 2.69\\ 3.41 3.14\\ 2.76 3.06\\ 3.08 2.78\\ 2.54 3.31\\ 3.21 2.57\\ 3.03 3.11\\ 2.82 2.51\\ 3.34 3.29\\ 2.92 3.46\\ 3.13 2.98\\ 2.62 2.91\\ 3.26 3.18\\ 2.85 3.03\\ 3.47 2.73\\ 2.71 3.41\\ 3.09 3.63\\ 3.19 2.39\\
4.93 3.33\\ 5.41 3.12\\ 4.82 2.74\\ 5.13 2.92\\ 4.64 3.21\\ 5.22 3.44\\ 4.96 2.53\\ 4.73 3.03\\ 5.31 2.71\\ 4.89 3.16\\ 5.06 3.27\\ 4.52 2.86\\ 5.17 2.62\\ 4.78 3.52\\ 5.52 2.97\\ 4.86 2.89\\ 5.09 3.08\\ 4.69 2.64\\ 5.27 3.19\\ 4.98 2.81\\ 4.42 3.09\\ 5.36 2.45\\
6.88 2.76\\ 7.29 3.07\\ 6.67 3.18\\ 7.16 2.63\\ 6.96 3.31\\ 7.41 2.86\\ 6.76 2.94\\ 7.08 3.22\\ 6.54 2.69\\ 7.21 3.43\\ 7.03 2.89\\ 6.82 3.49\\ 7.34 2.71\\ 6.92 2.54\\ 7.13 3.02\\ 6.62 3.09\\ 7.26 2.82\\ 6.85 2.97\\ 7.47 3.27\\ 6.71 2.59\\ 7.09 2.37\\ 7.19 3.61\\
-7.07 0.67\\ -6.59 0.88\\ -7.18 1.26\\ -6.87 1.08\\ -7.36 0.79\\ -6.78 0.56\\ -7.04 1.47\\ -7.27 0.97\\ -6.69 1.29\\ -7.11 0.84\\ -6.94 0.73\\ -7.48 1.14\\ -6.83 1.38\\ -7.22 0.48\\ -6.48 1.03\\ -7.14 1.11\\ -6.91 0.92\\ -7.31 1.36\\ -6.73 0.81\\ -7.02 1.19\\ -7.58 0.91\\ -6.64 1.55\\
-4.88 0.76\\ -5.29 1.07\\ -4.67 1.18\\ -5.16 0.63\\ -4.96 1.31\\ -5.41 0.86\\ -4.76 0.94\\ -5.08 1.22\\ -4.54 0.69\\ -5.21 1.43\\ -5.03 0.89\\ -4.82 1.49\\ -5.34 0.71\\ -4.92 0.54\\ -5.13 1.02\\ -4.62 1.09\\ -5.26 0.82\\ -4.85 0.97\\ -5.47 1.27\\ -4.71 0.59\\ -5.09 0.37\\ -5.19 1.61\\
-2.93 1.33\\ -3.41 1.12\\ -2.82 0.74\\ -3.13 0.92\\ -2.64 1.21\\ -3.22 1.44\\ -2.96 0.53\\ -2.73 1.03\\ -3.31 0.71\\ -2.89 1.16\\ -3.06 1.27\\ -2.52 0.86\\ -3.17 0.62\\ -2.78 1.52\\ -3.52 0.97\\ -2.86 0.89\\ -3.09 1.08\\ -2.69 0.64\\ -3.27 1.19\\ -2.98 0.81\\ -2.42 1.09\\ -3.36 0.45\\
-1.12 1.24\\ -0.71 0.93\\ -1.33 0.82\\ -0.84 1.37\\ -1.04 0.69\\ -0.59 1.14\\ -1.24 1.06\\ -0.92 0.78\\ -1.46 1.31\\ -0.79 0.57\\ -0.97 1.11\\ -1.18 0.51\\ -0.66 1.29\\ -1.08 1.46\\ -0.87 0.98\\ -1.38 0.91\\ -0.74 1.18\\ -1.15 1.03\\ -0.53 0.73\\ -1.29 1.41\\ -0.91 1.63\\ -0.81 0.39\\
0.93 1.33\\ 1.41 1.12\\ 0.82 0.74\\ 1.13 0.92\\ 0.64 1.21\\ 1.22 1.44\\ 0.96 0.53\\ 0.73 1.03\\ 1.31 0.71\\ 0.89 1.16\\ 1.06 1.27\\ 0.52 0.86\\ 1.17 0.62\\ 0.78 1.52\\ 1.52 0.97\\ 0.86 0.89\\ 1.09 1.08\\ 0.69 0.64\\ 1.27 1.19\\ 0.98 0.81\\ 0.42 1.09\\ 1.36 0.45\\
2.88 0.76\\ 3.29 1.07\\ 2.67 1.18\\ 3.16 0.63\\ 2.96 1.31\\ 3.41 0.86\\ 2.76 0.94\\ 3.08 1.22\\ 2.54 0.69\\ 3.21 1.43\\ 3.03 0.89\\ 2.82 1.49\\ 3.34 0.71\\ 2.92 0.54\\ 3.13 1.02\\ 2.62 1.09\\ 3.26 0.82\\ 2.85 0.97\\ 3.47 1.27\\ 2.71 0.59\\ 3.09 0.37\\ 3.19 1.61\\
5.33 1.07\\ 5.12 0.59\\ 4.74 1.18\\ 4.92 0.87\\ 5.21 1.36\\ 5.44 0.78\\ 4.53 1.04\\ 5.03 1.27\\ 4.71 0.69\\ 5.16 1.11\\ 5.27 0.94\\ 4.86 1.48\\ 4.62 0.83\\ 5.52 1.22\\ 4.97 0.48\\ 4.89 1.14\\ 5.08 0.91\\ 4.64 1.31\\ 5.19 0.73\\ 4.81 1.02\\ 5.09 1.58\\ 4.45 0.64\\
7.24 0.88\\ 6.93 1.29\\ 6.82 0.67\\ 7.37 1.16\\ 6.69 0.96\\ 7.14 1.41\\ 7.06 0.76\\ 6.78 1.08\\ 7.31 0.54\\ 6.57 1.21\\ 7.11 1.03\\ 6.51 0.82\\ 7.29 1.34\\ 7.46 0.92\\ 6.98 1.13\\ 6.91 0.62\\ 7.18 1.26\\ 7.03 0.85\\ 6.73 1.47\\ 7.41 0.71\\ 7.63 1.09\\ 6.39 1.19\\
-7.12 -0.76\\ -6.71 -1.07\\ -7.33 -1.18\\ -6.84 -0.63\\ -7.04 -1.31\\ -6.59 -0.86\\ -7.24 -0.94\\ -6.92 -1.22\\ -7.46 -0.69\\ -6.79 -1.43\\ -6.97 -0.89\\ -7.18 -1.49\\ -6.66 -0.71\\ -7.08 -0.54\\ -6.87 -1.02\\ -7.38 -1.09\\ -6.74 -0.82\\ -7.15 -0.97\\ -6.53 -1.27\\ -7.29 -0.59\\ -6.91 -0.37\\ -6.81 -1.61\\
-5.07 -0.67\\ -4.59 -0.88\\ -5.18 -1.26\\ -4.87 -1.08\\ -5.36 -0.79\\ -4.78 -0.56\\ -5.04 -1.47\\ -5.27 -0.97\\ -4.69 -1.29\\ -5.11 -0.84\\ -4.94 -0.73\\ -5.48 -1.14\\ -4.83 -1.38\\ -5.22 -0.48\\ -4.48 -1.03\\ -5.14 -1.11\\ -4.91 -0.92\\ -5.31 -1.36\\ -4.73 -0.81\\ -5.02 -1.19\\ -5.58 -0.91\\ -4.64 -1.55\\
-3.12 -1.24\\ -2.71 -0.93\\ -3.33 -0.82\\ -2.84 -1.37\\ -3.04 -0.69\\ -2.59 -1.14\\ -3.24 -1.06\\ -2.92 -0.78\\ -3.46 -1.31\\ -2.79 -0.57\\ -2.97 -1.11\\ -3.18 -0.51\\ -2.66 -1.29\\ -3.08 -1.46\\ -2.87 -0.98\\ -3.38 -0.91\\ -2.74 -1.18\\ -3.15 -1.03\\ -2.53 -0.73\\ -3.29 -1.41\\ -2.91 -1.63\\ -2.81 -0.39\\
-0.67 -0.93\\ -0.88 -1.41\\ -1.26 -0.82\\ -1.08 -1.13\\ -0.79 -0.64\\ -0.56 -1.22\\ -1.47 -0.96\\ -0.97 -0.73\\ -1.29 -1.31\\ -0.84 -0.89\\ -0.73 -1.06\\ -1.14 -0.52\\ -1.38 -1.17\\ -0.48 -0.78\\ -1.03 -1.52\\ -1.11 -0.86\\ -0.92 -1.09\\ -1.36 -0.69\\ -0.81 -1.27\\ -1.19 -0.98\\ -0.91 -0.42\\ -1.55 -1.36\\
1.24 -1.12\\ 0.93 -0.71\\ 0.82 -1.33\\ 1.37 -0.84\\ 0.69 -1.04\\ 1.14 -0.59\\ 1.06 -1.24\\ 0.78 -0.92\\ 1.31 -1.46\\ 0.57 -0.79\\ 1.11 -0.97\\ 0.51 -1.18\\ 1.29 -0.66\\ 1.46 -1.08\\ 0.98 -0.87\\ 0.91 -1.38\\ 1.18 -0.74\\ 1.03 -1.15\\ 0.73 -0.53\\ 1.41 -1.29\\ 1.63 -0.91\\ 0.39 -0.81\\
2.93 -1.33\\ 3.41 -1.12\\ 2.82 -0.74\\ 3.13 -0.92\\ 2.64 -1.21\\ 3.22 -1.44\\ 2.96 -0.53\\ 2.73 -1.03\\ 3.31 -0.71\\ 2.89 -1.16\\ 3.06 -1.27\\ 2.52 -0.86\\ 3.17 -0.62\\ 2.78 -1.52\\ 3.52 -0.97\\ 2.86 -0.89\\ 3.09 -1.08\\ 2.69 -0.64\\ 3.27 -1.19\\ 2.98 -0.81\\ 2.42 -1.09\\ 3.36 -0.45\\
5.12 -1.24\\ 4.71 -0.93\\ 5.33 -0.82\\ 4.84 -1.37\\ 5.04 -0.69\\ 4.59 -1.14\\ 5.24 -1.06\\ 4.92 -0.78\\ 5.46 -1.31\\ 4.79 -0.57\\ 4.97 -1.11\\ 5.18 -0.51\\ 4.66 -1.29\\ 5.08 -1.46\\ 4.87 -0.98\\ 5.38 -0.91\\ 4.74 -1.18\\ 5.15 -1.03\\ 4.53 -0.73\\ 5.29 -1.41\\ 4.91 -1.63\\ 4.81 -0.39\\
7.07 -0.67\\ 6.59 -0.88\\ 7.18 -1.26\\ 6.87 -1.08\\ 7.36 -0.79\\ 6.78 -0.56\\ 7.04 -1.47\\ 7.27 -0.97\\ 6.69 -1.29\\ 7.11 -0.84\\ 6.94 -0.73\\ 7.48 -1.14\\ 6.83 -1.38\\ 7.22 -0.48\\ 6.48 -1.03\\ 7.14 -1.11\\ 6.91 -0.92\\ 7.31 -1.36\\ 6.73 -0.81\\ 7.02 -1.19\\ 7.58 -0.91\\ 6.64 -1.55\\
-7.12 -3.24\\ -6.71 -2.93\\ -7.33 -2.82\\ -6.84 -3.37\\ -7.04 -2.69\\ -6.59 -3.14\\ -7.24 -3.06\\ -6.92 -2.78\\ -7.46 -3.31\\ -6.79 -2.57\\ -6.97 -3.11\\ -7.18 -2.51\\ -6.66 -3.29\\ -7.08 -3.46\\ -6.87 -2.98\\ -7.38 -2.91\\ -6.74 -3.18\\ -7.15 -3.03\\ -6.53 -2.73\\ -7.29 -3.41\\ -6.91 -3.63\\ -6.81 -2.39\\
-4.67 -2.93\\ -4.88 -3.41\\ -5.26 -2.82\\ -5.08 -3.13\\ -4.79 -2.64\\ -4.56 -3.22\\ -5.47 -2.96\\ -4.97 -2.73\\ -5.29 -3.31\\ -4.84 -2.89\\ -4.73 -3.06\\ -5.14 -2.52\\ -5.38 -3.17\\ -4.48 -2.78\\ -5.03 -3.52\\ -5.11 -2.86\\ -4.92 -3.09\\ -5.36 -2.69\\ -4.81 -3.27\\ -5.19 -2.98\\ -4.91 -2.42\\ -5.55 -3.36\\
-2.76 -3.12\\ -3.07 -2.71\\ -3.18 -3.33\\ -2.63 -2.84\\ -3.31 -3.04\\ -2.86 -2.59\\ -2.94 -3.24\\ -3.22 -2.92\\ -2.69 -3.46\\ -3.43 -2.79\\ -2.89 -2.97\\ -3.49 -3.18\\ -2.71 -2.66\\ -2.54 -3.08\\ -3.02 -2.87\\ -3.09 -3.38\\ -2.82 -2.74\\ -2.97 -3.15\\ -3.27 -2.53\\ -2.59 -3.29\\ -2.37 -2.91\\ -3.61 -2.81\\
-1.07 -3.33\\ -0.59 -3.12\\ -1.18 -2.74\\ -0.87 -2.92\\ -1.36 -3.21\\ -0.78 -3.44\\ -1.04 -2.53\\ -1.27 -3.03\\ -0.69 -2.71\\ -1.11 -3.16\\ -0.94 -3.27\\ -1.48 -2.86\\ -0.83 -2.62\\ -1.22 -3.52\\ -0.48 -2.97\\ -1.14 -2.89\\ -0.91 -3.08\\ -1.31 -2.64\\ -0.73 -3.19\\ -1.02 -2.81\\ -1.58 -3.09\\ -0.64 -2.45\\
1.12 -3.24\\ 0.71 -2.93\\ 1.33 -2.82\\ 0.84 -3.37\\ 1.04 -2.69\\ 0.59 -3.14\\ 1.24 -3.06\\ 0.92 -2.78\\ 1.46 -3.31\\ 0.79 -2.57\\ 0.97 -3.11\\ 1.18 -2.51\\ 0.66 -3.29\\ 1.08 -3.46\\ 0.87 -2.98\\ 1.38 -2.91\\ 0.74 -3.18\\ 1.15 -3.03\\ 0.53 -2.73\\ 1.29 -3.41\\ 0.91 -3.63\\ 0.81 -2.39\\
3.07 -2.67\\ 2.59 -2.88\\ 3.18 -3.26\\ 2.87 -3.08\\ 3.36 -2.79\\ 2.78 -2.56\\ 3.04 -3.47\\ 3.27 -2.97\\ 2.69 -3.29\\ 3.11 -2.84\\ 2.94 -2.73\\ 3.48 -3.14\\ 2.83 -3.38\\ 3.22 -2.48\\ 2.48 -3.03\\ 3.14 -3.11\\ 2.91 -2.92\\ 3.31 -3.36\\ 2.73 -2.81\\ 3.02 -3.19\\ 3.58 -2.91\\ 2.64 -3.55\\
4.88 -2.76\\ 5.29 -3.07\\ 4.67 -3.18\\ 5.16 -2.63\\ 4.96 -3.31\\ 5.41 -2.86\\ 4.76 -2.94\\ 5.08 -3.22\\ 4.54 -2.69\\ 5.21 -3.43\\ 5.03 -2.89\\ 4.82 -3.49\\ 5.34 -2.71\\ 4.92 -2.54\\ 5.13 -3.02\\ 4.62 -3.09\\ 5.26 -2.82\\ 4.85 -2.97\\ 5.47 -3.27\\ 4.71 -2.59\\ 5.09 -2.37\\ 5.19 -3.61\\
6.93 -2.67\\ 7.41 -2.88\\ 6.82 -3.26\\ 7.13 -3.08\\ 6.64 -2.79\\ 7.22 -2.56\\ 6.96 -3.47\\ 6.73 -2.97\\ 7.31 -3.29\\ 6.89 -2.84\\ 7.06 -2.73\\ 6.52 -3.14\\ 7.17 -3.38\\ 6.78 -2.48\\ 7.52 -3.03\\ 6.86 -3.11\\ 7.09 -2.92\\ 6.69 -3.36\\ 7.27 -2.81\\ 6.98 -3.19\\ 6.42 -2.91\\ 7.36 -3.55\\
-6.76 -5.12\\ -7.07 -4.71\\ -7.18 -5.33\\ -6.63 -4.84\\ -7.31 -5.04\\ -6.86 -4.59\\ -6.94 -5.24\\ -7.22 -4.92\\ -6.69 -5.46\\ -7.43 -4.79\\ -6.89 -4.97\\ -7.49 -5.18\\ -6.71 -4.66\\ -6.54 -5.08\\ -7.02 -4.87\\ -7.09 -5.38\\ -6.82 -4.74\\ -6.97 -5.15\\ -7.27 -4.53\\ -6.59 -5.29\\ -6.37 -4.91\\ -7.61 -4.81\\
-5.07 -5.33\\ -4.59 -5.12\\ -5.18 -4.74\\ -4.87 -4.92\\ -5.36 -5.21\\ -4.78 -5.44\\ -5.04 -4.53\\ -5.27 -5.03\\ -4.69 -4.71\\ -5.11 -5.16\\ -4.94 -5.27\\ -5.48 -4.86\\ -4.83 -4.62\\ -5.22 -5.52\\ -4.48 -4.97\\ -5.14 -4.89\\ -4.91 -5.08\\ -5.31 -4.64\\ -4.73 -5.19\\ -5.02 -4.81\\ -5.58 -5.09\\ -4.64 -4.45\\
-2.88 -5.24\\ -3.29 -4.93\\ -2.67 -4.82\\ -3.16 -5.37\\ -2.96 -4.69\\ -3.41 -5.14\\ -2.76 -5.06\\ -3.08 -4.78\\ -2.54 -5.31\\ -3.21 -4.57\\ -3.03 -5.11\\ -2.82 -4.51\\ -3.34 -5.29\\ -2.92 -5.46\\ -3.13 -4.98\\ -2.62 -4.91\\ -3.26 -5.18\\ -2.85 -5.03\\ -3.47 -4.73\\ -2.71 -5.41\\ -3.09 -5.63\\ -3.19 -4.39\\
-0.93 -4.67\\ -1.41 -4.88\\ -0.82 -5.26\\ -1.13 -5.08\\ -0.64 -4.79\\ -1.22 -4.56\\ -0.96 -5.47\\ -0.73 -4.97\\ -1.31 -5.29\\ -0.89 -4.84\\ -1.06 -4.73\\ -0.52 -5.14\\ -1.17 -5.38\\ -0.78 -4.48\\ -1.52 -5.03\\ -0.86 -5.11\\ -1.09 -4.92\\ -0.69 -5.36\\ -1.27 -4.81\\ -0.98 -5.19\\ -0.42 -4.91\\ -1.36 -5.55\\
0.88 -4.76\\ 1.29 -5.07\\ 0.67 -5.18\\ 1.16 -4.63\\ 0.96 -5.31\\ 1.41 -4.86\\ 0.76 -4.94\\ 1.08 -5.22\\ 0.54 -4.69\\ 1.21 -5.43\\ 1.03 -4.89\\ 0.82 -5.49\\ 1.34 -4.71\\ 0.92 -4.54\\ 1.13 -5.02\\ 0.62 -5.09\\ 1.26 -4.82\\ 0.85 -4.97\\ 1.47 -5.27\\ 0.71 -4.59\\ 1.09 -4.37\\ 1.19 -5.61\\
2.93 -4.67\\ 3.41 -4.88\\ 2.82 -5.26\\ 3.13 -5.08\\ 2.64 -4.79\\ 3.22 -4.56\\ 2.96 -5.47\\ 2.73 -4.97\\ 3.31 -5.29\\ 2.89 -4.84\\ 3.06 -4.73\\ 2.52 -5.14\\ 3.17 -5.38\\ 2.78 -4.48\\ 3.52 -5.03\\ 2.86 -5.11\\ 3.09 -4.92\\ 2.69 -5.36\\ 3.27 -4.81\\ 2.98 -5.19\\ 2.42 -4.91\\ 3.36 -5.55\\
4.88 -5.24\\ 5.29 -4.93\\ 4.67 -4.82\\ 5.16 -5.37\\ 4.96 -4.69\\ 5.41 -5.14\\ 4.76 -5.06\\ 5.08 -4.78\\ 4.54 -5.31\\ 5.21 -4.57\\ 5.03 -5.11\\ 4.82 -4.51\\ 5.34 -5.29\\ 4.92 -5.46\\ 5.13 -4.98\\ 4.62 -4.91\\ 5.26 -5.18\\ 4.85 -5.03\\ 5.47 -4.73\\ 4.71 -5.41\\ 5.09 -5.63\\ 5.19 -4.39\\
7.33 -4.93\\ 7.12 -5.41\\ 6.74 -4.82\\ 6.92 -5.13\\ 7.21 -4.64\\ 7.44 -5.22\\ 6.53 -4.96\\ 7.03 -4.73\\ 6.71 -5.31\\ 7.16 -4.89\\ 7.27 -5.06\\ 6.86 -4.52\\ 6.62 -5.17\\ 7.52 -4.78\\ 6.97 -5.52\\ 6.89 -4.86\\ 7.08 -5.09\\ 6.64 -4.69\\ 7.19 -5.27\\ 6.81 -4.98\\ 7.09 -4.42\\ 6.45 -5.36\\
-6.88 -7.24\\ -7.29 -6.93\\ -6.67 -6.82\\ -7.16 -7.37\\ -6.96 -6.69\\ -7.41 -7.14\\ -6.76 -7.06\\ -7.08 -6.78\\ -6.54 -7.31\\ -7.21 -6.57\\ -7.03 -7.11\\ -6.82 -6.51\\ -7.34 -7.29\\ -6.92 -7.46\\ -7.13 -6.98\\ -6.62 -6.91\\ -7.26 -7.18\\ -6.85 -7.03\\ -7.47 -6.73\\ -6.71 -7.41\\ -7.09 -7.63\\ -7.19 -6.39\\
-4.93 -6.67\\ -5.41 -6.88\\ -4.82 -7.26\\ -5.13 -7.08\\ -4.64 -6.79\\ -5.22 -6.56\\ -4.96 -7.47\\ -4.73 -6.97\\ -5.31 -7.29\\ -4.89 -6.84\\ -5.06 -6.73\\ -4.52 -7.14\\ -5.17 -7.38\\ -4.78 -6.48\\ -5.52 -7.03\\ -4.86 -7.11\\ -5.09 -6.92\\ -4.69 -7.36\\ -5.27 -6.81\\ -4.98 -7.19\\ -4.42 -6.91\\ -5.36 -7.55\\
-3.12 -6.76\\ -2.71 -7.07\\ -3.33 -7.18\\ -2.84 -6.63\\ -3.04 -7.31\\ -2.59 -6.86\\ -3.24 -6.94\\ -2.92 -7.22\\ -3.46 -6.69\\ -2.79 -7.43\\ -2.97 -6.89\\ -3.18 -7.49\\ -2.66 -6.71\\ -3.08 -6.54\\ -2.87 -7.02\\ -3.38 -7.09\\ -2.74 -6.82\\ -3.15 -6.97\\ -2.53 -7.27\\ -3.29 -6.59\\ -2.91 -6.37\\ -2.81 -7.61\\
-1.07 -6.67\\ -0.59 -6.88\\ -1.18 -7.26\\ -0.87 -7.08\\ -1.36 -6.79\\ -0.78 -6.56\\ -1.04 -7.47\\ -1.27 -6.97\\ -0.69 -7.29\\ -1.11 -6.84\\ -0.94 -6.73\\ -1.48 -7.14\\ -0.83 -7.38\\ -1.22 -6.48\\ -0.48 -7.03\\ -1.14 -7.11\\ -0.91 -6.92\\ -1.31 -7.36\\ -0.73 -6.81\\ -1.02 -7.19\\ -1.58 -6.91\\ -0.64 -7.55\\
0.88 -7.24\\ 1.29 -6.93\\ 0.67 -6.82\\ 1.16 -7.37\\ 0.96 -6.69\\ 1.41 -7.14\\ 0.76 -7.06\\ 1.08 -6.78\\ 0.54 -7.31\\ 1.21 -6.57\\ 1.03 -7.11\\ 0.82 -6.51\\ 1.34 -7.29\\ 0.92 -7.46\\ 1.13 -6.98\\ 0.62 -6.91\\ 1.26 -7.18\\ 0.85 -7.03\\ 1.47 -6.73\\ 0.71 -7.41\\ 1.09 -7.63\\ 1.19 -6.39\\
3.33 -6.93\\ 3.12 -7.41\\ 2.74 -6.82\\ 2.92 -7.13\\ 3.21 -6.64\\ 3.44 -7.22\\ 2.53 -6.96\\ 3.03 -6.73\\ 2.71 -7.31\\ 3.16 -6.89\\ 3.27 -7.06\\ 2.86 -6.52\\ 2.62 -7.17\\ 3.52 -6.78\\ 2.97 -7.52\\ 2.89 -6.86\\ 3.08 -7.09\\ 2.64 -6.69\\ 3.19 -7.27\\ 2.81 -6.98\\ 3.09 -6.42\\ 2.45 -7.36\\
5.24 -7.12\\ 4.93 -6.71\\ 4.82 -7.33\\ 5.37 -6.84\\ 4.69 -7.04\\ 5.14 -6.59\\ 5.06 -7.24\\ 4.78 -6.92\\ 5.31 -7.46\\ 4.57 -6.79\\ 5.11 -6.97\\ 4.51 -7.18\\ 5.29 -6.66\\ 5.46 -7.08\\ 4.98 -6.87\\ 4.91 -7.38\\ 5.18 -6.74\\ 5.03 -7.15\\ 4.73 -6.53\\ 5.41 -7.29\\ 5.63 -6.91\\ 4.39 -6.81\\
6.93 -7.33\\ 7.41 -7.12\\ 6.82 -6.74\\ 7.13 -6.92\\ 6.64 -7.21\\ 7.22 -7.44\\ 6.96 -6.53\\ 6.73 -7.03\\ 7.31 -6.71\\ 6.89 -7.16\\ 7.06 -7.27\\ 6.52 -6.86\\ 7.17 -6.62\\ 6.78 -7.52\\ 7.52 -6.97\\ 6.86 -6.89\\ 7.09 -7.08\\ 6.69 -7.36\\ 7.27 -6.81\\ 6.98 -7.19\\ 6.42 -7.09\\ 7.36 -6.45\\
}\rxdata

\begin{document}
\begin{tikzpicture}
\begin{axis}[
    width=373.5pt, height=375pt,
    scale only axis,
    xmin=-8.6, xmax=8.46,
    ymin=-8.7, ymax=8.7,
    xtick={-8,-6,...,8}, ytick={-8,-6,...,8},
    tick align=inside,
    major tick length=3.5pt,
    axis line style={draw=axisgray, line width=0.6pt},
    every tick/.style={draw=axisgray, line width=0.6pt},
    /pgf/number format/assume math mode=true,
    ticklabel style={font=\bfseries\fontsize{13.5}{13.5}\selectfont, text=txtgray},
    xticklabel style={anchor=base, yshift=-18.75pt},
    every axis x label/.style={at={(axis description cs:0.5,0)}, anchor=base, yshift=-36.5pt,
                 font=\bfseries\fontsize{14.5}{14.5}\selectfont, text=txtgray},
    every axis y label/.style={at={(axis description cs:-0.0582,0.5)}, anchor=base, rotate=90,
                 font=\bfseries\fontsize{14.5}{14.5}\selectfont, text=txtgray},
    every axis title/.style={at={(axis description cs:0.5,1)}, anchor=base, yshift=7.5pt,
                 font=\bfseries\fontsize{15}{15}\selectfont, text=black},
    title={Constellation of received 64-QAM data},
    xlabel={In-Phase},
    ylabel={Quadrature},
]
\addplot[only marks, mark=*, mark size=0.8pt, color=blue, mark options={draw=blue, fill=blue}]
    table[x=x, y=y] {\rxdata};
\coordinate (sw) at (rel axis cs:0,0);
\coordinate (ne) at (rel axis cs:1,1);
\end{axis}
\pgfresetboundingbox
\path ([xshift=-39.75pt, yshift=-39pt]sw) rectangle ([yshift=27pt]ne);
\end{tikzpicture}
\end{document}
